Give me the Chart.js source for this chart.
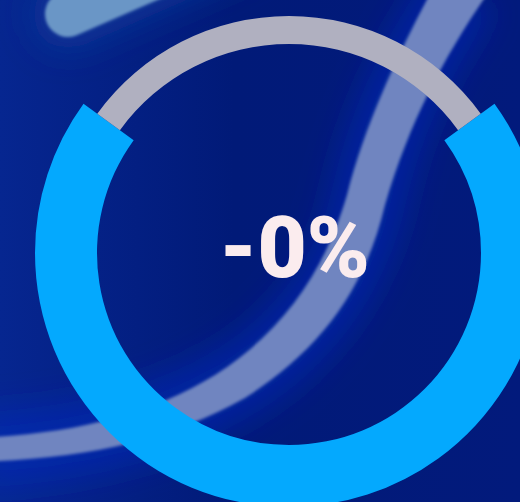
<!DOCTYPE html>
<html>
<head>
<meta charset="utf-8">
<script src="https://cdn.jsdelivr.net/npm/chart.js@4/dist/chart.umd.min.js"></script>
<style>
  html, body { margin: 0; padding: 0; width: 520px; height: 502px; overflow: hidden; background: #021c80; }
  #bg { position: absolute; left: 0; top: 0; }
  #ringOuter { position: absolute; left: 35px; top: -1px; }
  #ringInner { position: absolute; left: 52px; top: 16px; }
</style>
</head>
<body>
<svg id="bg" width="520" height="502" xmlns="http://www.w3.org/2000/svg">
  <defs>
    <linearGradient id="base" x1="0" y1="0" x2="1" y2="0">
      <stop offset="0" stop-color="#062690"/>
      <stop offset="0.45" stop-color="#011a78"/>
      <stop offset="1" stop-color="#021a7c"/>
    </linearGradient>
    <filter id="glow" filterUnits="userSpaceOnUse" x="-100" y="-100" width="720" height="700"><feGaussianBlur stdDeviation="16"/></filter>
    <filter id="soft" filterUnits="userSpaceOnUse" x="-100" y="-100" width="720" height="700"><feGaussianBlur stdDeviation="1.5"/></filter>
  </defs>
  <rect width="520" height="502" fill="url(#base)"/>
  <path d="M 462 -10 C 420 50, 385 120, 368 200 C 350 280, 300 345, 230 385 C 160 425, 80 445, -20 450"
        fill="none" stroke="#0a2cc4" stroke-width="75" stroke-opacity="0.5" filter="url(#glow)"/>
  <path d="M 490 -10 C 445 55, 410 120, 385 205 C 365 290, 320 350, 245 398 C 170 440, 90 458, -20 462
           L -20 438 C 75 433, 150 415, 215 375 C 285 330, 325 270, 347 195 C 365 125, 395 60, 432 -10 Z"
        fill="#7085c0" filter="url(#soft)"/>
  <path d="M 68 14 L 260 -70" fill="none" stroke="#0b3a9e" stroke-width="70" stroke-linecap="round" stroke-opacity="0.7" filter="url(#glow)"/>
  <path d="M 68 14 L 260 -70" fill="none" stroke="#6a96c6" stroke-width="46" stroke-linecap="round" filter="url(#soft)"/>
</svg>
<canvas id="ringOuter" width="508" height="508"></canvas>
<canvas id="ringInner" width="474" height="474"></canvas>
<script>
// ---- data ----
const categories = ['Value', 'Remainder'];
const values = [70, 30];
const centerLabel = '-0%';

const blue = '#04a9fe';
const grey = '#b0b0c0';

const commonOptions = {
  responsive: false,
  animation: false,
  rotation: 54,
  plugins: { legend: { display: false }, tooltip: { enabled: false } },
  layout: { padding: 0 }
};

new Chart(document.getElementById('ringOuter'), {
  type: 'doughnut',
  data: {
    labels: categories,
    datasets: [{ data: values, backgroundColor: [blue, 'rgba(0,0,0,0)'], borderWidth: 0, hoverOffset: 0 }]
  },
  options: Object.assign({}, commonOptions, { cutout: 192 })
});

const centerText = {
  id: 'centerText',
  afterDraw(chart) {
    const ctx = chart.ctx;
    const a = chart.chartArea;
    const cx = (a.left + a.right) / 2;
    const cy = (a.top + a.bottom) / 2;
    ctx.save();
    ctx.font = '900 85px Roboto';
    ctx.fillStyle = '#fbecee';
    ctx.textAlign = 'center';
    ctx.textBaseline = 'alphabetic';
    ctx.fillText(centerLabel, cx + 5.5, cy + 23.5);
    ctx.restore();
  }
};

new Chart(document.getElementById('ringInner'), {
  type: 'doughnut',
  data: {
    labels: categories,
    datasets: [{ data: values, backgroundColor: ['rgba(0,0,0,0)', grey], borderWidth: 0, hoverOffset: 0 }]
  },
  options: Object.assign({}, commonOptions, { cutout: 209 }),
  plugins: [centerText]
});
</script>
</body>
</html>
